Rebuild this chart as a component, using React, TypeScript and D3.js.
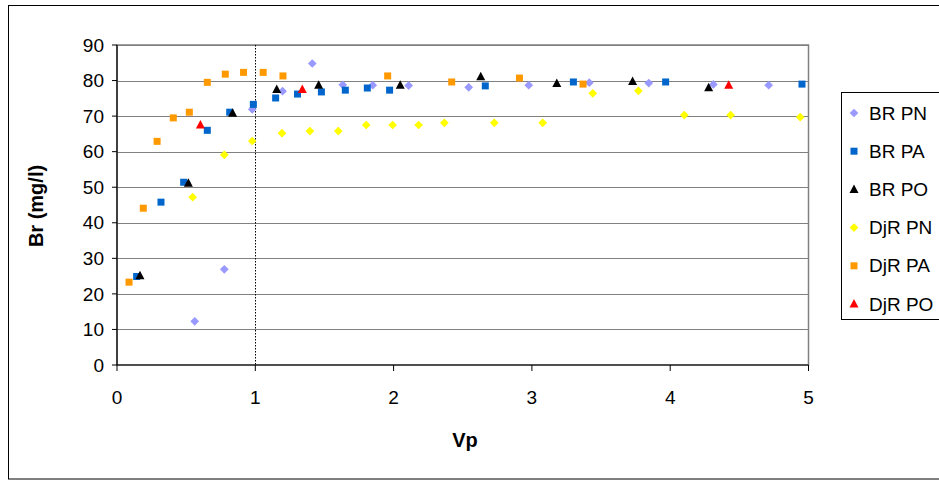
import React from "react";
import * as d3 from "d3";

const seriesNames = ["BR PN", "BR PA", "BR PO", "DjR PN", "DjR PA", "DjR PO"];
const seriesColors = ["#9999FF", "#0066CC", "#000000", "#FFFF00", "#FF9900", "#FF0000"];
const seriesShapes = ["diamond", "square", "triangle", "diamond", "square", "triangle"];

const brPN: [number, number][] = [
  [0.562, 12.3], [0.776, 26.9], [0.978, 71.9], [1.197, 77.0], [1.412, 84.8], [1.632, 78.8],
  [1.849, 78.7], [2.109, 78.6], [2.543, 78.1], [2.977, 78.7], [3.415, 79.4], [3.845, 79.3],
  [4.312, 78.9], [4.712, 78.7],
];
const brPA: [number, number][] = [
  [0.142, 24.9], [0.318, 45.8], [0.482, 51.4], [0.653, 66.0], [0.815, 71.1], [0.986, 73.3],
  [1.147, 75.1], [1.305, 76.2], [1.478, 76.8], [1.651, 77.3], [1.81, 77.9], [1.971, 77.3],
  [2.663, 78.5], [3.3, 79.6], [3.967, 79.6], [4.953, 79.0],
];
const brPO: [number, number][] = [
  [0.166, 25.1], [0.516, 51.1], [0.836, 70.8], [1.155, 77.5], [1.458, 78.7], [2.048, 78.7],
  [2.63, 81.1], [3.18, 79.2], [3.728, 79.7], [4.278, 78.0],
];
const djrPN: [number, number][] = [
  [0.547, 47.2], [0.776, 59.1], [0.978, 63.0], [1.193, 65.2], [1.395, 65.8], [1.6, 65.8],
  [1.802, 67.5], [1.993, 67.5], [2.181, 67.5], [2.367, 68.1], [2.728, 68.1], [3.078, 68.1],
  [3.44, 76.4], [3.77, 77.1], [4.102, 70.3], [4.437, 70.3], [4.94, 69.7],
];
const djrPA: [number, number][] = [
  [0.087, 23.3], [0.19, 44.1], [0.29, 62.9], [0.407, 69.5], [0.523, 71.1], [0.653, 79.5],
  [0.783, 81.8], [0.915, 82.3], [1.057, 82.3], [1.2, 81.3], [1.957, 81.3], [2.42, 79.6],
  [2.91, 80.7], [3.37, 79.0],
];
const djrPO: [number, number][] = [
  [0.603, 67.5], [1.34, 77.5], [4.423, 78.7],
];

const seriesData = [brPN, brPA, brPO, djrPN, djrPA, djrPO];

const xTicks = [0, 1, 2, 3, 4, 5];
const yTicks = [0, 10, 20, 30, 40, 50, 60, 70, 80, 90];
const refLineX = 1;

const FONT = "'Liberation Sans', Arial, sans-serif";

function Marker({ shape, color, x, y }: { shape: string; color: string; x: number; y: number }) {
  if (shape === "diamond") {
    const s = d3.symbol().type(d3.symbolSquare).size(38)();
    return <path d={s || ""} transform={`translate(${x},${y}) rotate(45)`} fill={color} />;
  }
  if (shape === "square") {
    return <rect x={x - 3.5} y={y - 3.5} width={7} height={7} fill={color} />;
  }
  const t = `M${x},${y - 5}L${x + 4.5},${y + 3.5}L${x - 4.5},${y + 3.5}Z`;
  return <path d={t} fill={color} />;
}

export default function App() {
  const W = 939;
  const H = 481;
  const left = 117, right = 808.5, top = 45, bottom = 365;
  const x = d3.scaleLinear().domain([0, 5]).range([left, right]);
  const y = d3.scaleLinear().domain([0, 90]).range([bottom, top]);

  const legendTop = 92;
  const legendLeft = 841;
  const legendRowY = (i: number) => 113 + i * 38.2;

  return (
    <div style={{ position: "absolute", left: 0, top: 0 }}>
      <svg width={W} height={H} style={{ display: "block", fontFamily: FONT }}>
        <rect x={0} y={0} width={W} height={H} fill="#fff" />
        <rect x={8.5} y={5.5} width={W + 10} height={473.5} fill="none" stroke="#000" strokeWidth={1} />
        {/* plot border */}
        <rect x={left} y={top} width={right - left} height={bottom - top} fill="none" stroke="#808080" strokeWidth={1.5} />
        {/* gridlines */}
        {yTicks.filter((t) => t > 0).map((t) => (
          <line key={"g" + t} x1={left} x2={right} y1={Math.round(y(t)) + 0.5} y2={Math.round(y(t)) + 0.5} stroke="#808080" strokeWidth={1} />
        ))}
        {/* reference dotted line */}
        <line x1={Math.round(x(refLineX)) + 0.5} x2={Math.round(x(refLineX)) + 0.5} y1={top} y2={bottom} stroke="#000" strokeWidth={1} strokeDasharray="1.5,1.5" />
        {/* axes */}
        <line x1={left} x2={left} y1={top} y2={bottom} stroke="#000" strokeWidth={1.2} />
        <line x1={left} x2={right} y1={bottom} y2={bottom} stroke="#000" strokeWidth={1.2} />
        {yTicks.map((t) => (
          <g key={"y" + t}>
            <line x1={left - 5} x2={left} y1={y(t)} y2={y(t)} stroke="#000" strokeWidth={1} />
            <text x={left - 13} y={y(t)} dy="0.35em" textAnchor="end" fontSize={19} fill="#000">{t}</text>
          </g>
        ))}
        {xTicks.map((t) => (
          <g key={"x" + t}>
            <line x1={x(t)} x2={x(t)} y1={bottom} y2={bottom + 6} stroke="#000" strokeWidth={1} />
            <text x={x(t)} y={397} dy="0.35em" textAnchor="middle" fontSize={19} fill="#000">{t}</text>
          </g>
        ))}
        <text x={465} y={440} dy="0.35em" textAnchor="middle" fontSize={20} fontWeight="bold" fill="#000">Vp</text>
        <text transform={`translate(36,206) rotate(-90)`} dy="0.35em" textAnchor="middle" fontSize={20} fontWeight="bold" fill="#000">Br (mg/l)</text>
        {/* points */}
        {seriesData.map((data, si) =>
          data.map(([vx, vy], i) => (
            <Marker key={si + "-" + i} shape={seriesShapes[si]} color={seriesColors[si]} x={x(vx)} y={y(vy)} />
          ))
        )}
        {/* legend */}
        <rect x={legendLeft + 0.5} y={legendTop + 0.5} width={W} height={227} fill="#fff" stroke="#000" strokeWidth={1} />
        {seriesNames.map((n, i) => (
          <g key={"l" + i}>
            <Marker shape={seriesShapes[i]} color={seriesColors[i]} x={854} y={legendRowY(i)} />
            <text x={869} y={legendRowY(i)} dy="0.35em" fontSize={19} fill="#000">{n}</text>
          </g>
        ))}
      </svg>
    </div>
  );
}
